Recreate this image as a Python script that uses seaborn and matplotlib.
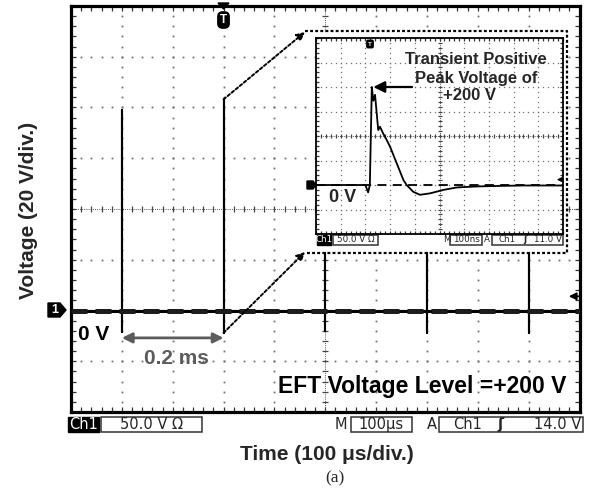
import matplotlib
matplotlib.use("Agg")
import numpy as np
import pandas as pd
import matplotlib.pyplot as plt
from matplotlib.patches import Rectangle, Polygon
from matplotlib.lines import Line2D
from matplotlib.ticker import MultipleLocator
import seaborn as sns

# Main record: 100 us/div, 50 V/div, burst spikes every 0.2 ms
spike_times_us = [100, 300, 500, 700, 900]
spike_peaks_v = [198, 208, 200, 200, 200]
spike_dips_v = [-21, -22, -20, -22, -22]
trigger_main_v = 14.0

# Zoomed single pulse: 100 ns/div, 50 V/div
pulse_time_ns = [0, 100, 200, 211, 218, 226, 232, 239, 252, 259, 272, 286, 300,
                 327, 354, 367, 394, 421, 462, 516, 570, 650, 730, 840, 1000]
pulse_volt_v = [0, 0, 0, -15, 0, 200, 172, 184, 112, 119, 105, 92, 78,
                44, 10, 0, -14, -20, -17, -10, -5, -3, -2, -1, -1]
trigger_zoom_v = 11.0

main_status = ["Ch1", "50.0 V \u03a9", "M", "100\u03bcs", "A", "Ch1", "\u0283", "14.0 V"]
zoom_status = ["Ch1", "50.0 V \u03a9", "M", "100ns", "A", "Ch1", "\u0283", "11.0 V"]

sns.set_theme(style="white")
plt.rcParams["font.family"] = ["Liberation Sans", "DejaVu Sans"]

W, H = 594, 501
fig = plt.figure(figsize=(W / 100, H / 100), dpi=100)
fig.patch.set_facecolor("white")


def fx(px):
    return px / W


def fy(py):
    return 1 - py / H


def scope_grid(ax, xdiv, ydiv, ms, tick_ms):
    x0, x1 = ax.get_xlim()
    y0, y1 = ax.get_ylim()
    xc, yc = (x0 + x1) / 2, (y0 + y1) / 2
    xs_fine = np.arange(x0, x1 + 1e-9, xdiv / 5)
    ys_fine = np.arange(y0, y1 + 1e-9, ydiv / 5)
    for xg in np.arange(x0 + xdiv, x1 - 1e-9, xdiv):
        if abs(xg - xc) < 1e-6:
            continue
        ax.plot(np.full_like(ys_fine, xg), ys_fine, ls="none", marker="s",
                ms=ms, color="#707070", mew=0, zorder=1)
    for yg in np.arange(y0 + ydiv, y1 - 1e-9, ydiv):
        if abs(yg - yc) < 1e-6:
            continue
        ax.plot(xs_fine, np.full_like(xs_fine, yg), ls="none", marker="s",
                ms=ms, color="#707070", mew=0, zorder=1)
    # centre graticule with small ticks
    ax.axhline(yc, color="#555555", lw=0.7, ls=(0, (1, 1.2)), zorder=1)
    ax.axvline(xc, color="#555555", lw=0.7, ls=(0, (1, 1.2)), zorder=1)
    ax.plot(xs_fine, np.full_like(xs_fine, yc), ls="none", marker="|",
            ms=tick_ms, mew=0.9, color="#444444", zorder=1)
    ax.plot(np.full_like(ys_fine, xc), ys_fine, ls="none", marker="_",
            ms=tick_ms, mew=0.9, color="#444444", zorder=1)
    ax.xaxis.set_major_locator(MultipleLocator(xdiv))
    ax.xaxis.set_minor_locator(MultipleLocator(xdiv / 5))
    ax.yaxis.set_major_locator(MultipleLocator(ydiv))
    ax.yaxis.set_minor_locator(MultipleLocator(ydiv / 5))
    ax.tick_params(which="both", direction="in", length=tick_ms * 0.7, width=0.9,
                   color="#333333", top=True, right=True, bottom=True, left=True,
                   labelbottom=False, labelleft=False)
    ax.set_xlabel("")
    ax.set_ylabel("")


# ---------------- main record ----------------
ax = fig.add_axes([fx(71), fy(412), (579.5 - 71) / W, (412 - 6) / H])
ax.set_xlim(0, 1000)
ax.set_ylim(-100, 300)
scope_grid(ax, 100, 50, 1.3, 5)

t_pts, v_pts = [0.0], [0.0]
for t, pk, dp in zip(spike_times_us, spike_peaks_v, spike_dips_v):
    t_pts += [t, t, t, t]
    v_pts += [0, pk, dp, 0]
t_pts.append(1000.0)
v_pts.append(0.0)
main_df = pd.DataFrame({"t": t_pts, "v": v_pts})
sns.lineplot(data=main_df, x="t", y="v", sort=False, estimator=None,
             color="black", lw=1.5, ax=ax, zorder=3)
ax.axhline(0, color="black", lw=2.2, zorder=3)
ax.axhline(0, color="#1c1c1c", lw=3.6, dashes=(3.2, 1.6), zorder=3)
ax.set_xlabel("")
ax.set_ylabel("")
for s in ax.spines.values():
    s.set_linewidth(2.3)
    s.set_color("black")

# trigger-level marker
ax.annotate("", xy=(979, trigger_main_v), xytext=(1000, trigger_main_v),
            arrowprops=dict(arrowstyle="-|>", color="black", lw=1.2,
                            mutation_scale=11, shrinkA=0, shrinkB=0))

# 0.2 ms interval
ax.annotate("", xy=(spike_times_us[0], -27), xytext=(spike_times_us[1], -27),
            arrowprops=dict(arrowstyle="<|-|>", color="#5c5c5c", lw=2.0,
                            mutation_scale=15, shrinkA=0, shrinkB=0), zorder=4)
fig.text(fx(176), fy(358), "0.2 ms", ha="center", va="center", fontsize=15,
         fontweight="bold", color="#5c5c5c")
fig.text(fx(94), fy(334), "0 V", ha="center", va="center", fontsize=15,
         fontweight="bold", color="black")
fig.text(fx(422), fy(387), "EFT Voltage Level =+200 V", ha="center", va="center",
         fontsize=16.5, fontweight="bold", color="black")

# dotted connectors to the zoomed view
conn = dict(arrowstyle="-|>", color="black", lw=1.4, ls=(0, (1.5, 1.2)),
            mutation_scale=12, shrinkA=0, shrinkB=0)
ax.annotate("", xy=(fx(305), fy(32)), xycoords="figure fraction",
            xytext=(spike_times_us[1], spike_peaks_v[1]), textcoords="data",
            arrowprops=conn, annotation_clip=False)
ax.annotate("", xy=(fx(305), fy(252)), xycoords="figure fraction",
            xytext=(spike_times_us[1], spike_dips_v[1]), textcoords="data",
            arrowprops=conn, annotation_clip=False)

# channel and trigger markers
fig.add_artist(Polygon([(fx(48), fy(303)), (fx(60), fy(303)), (fx(66), fy(310)),
                        (fx(60), fy(317)), (fx(48), fy(317))], closed=True,
                       fc="black", ec="black", transform=fig.transFigure))
fig.text(fx(55), fy(310), "1", ha="center", va="center", fontsize=9,
         fontweight="bold", color="white", zorder=4)
fig.add_artist(Polygon([(fx(218), fy(3)), (fx(229), fy(3)), (fx(223.5), fy(9))],
                       closed=True, fc="black", ec="black", transform=fig.transFigure))
fig.text(fx(223.5), fy(20), "T", ha="center", va="center", fontsize=8.5,
         fontweight="bold", color="white",
         bbox=dict(boxstyle="round,pad=0.18,rounding_size=0.4", fc="black", ec="black"))

# axis titles
fig.text(fx(327), fy(455), "Time (100 \u03bcs/div.)", ha="center", va="center",
         fontsize=15, fontweight="bold")
fig.text(fx(29), fy(210), "Voltage (20 V/div.)", ha="center", va="center",
         rotation=90, fontsize=15, fontweight="bold")
fig.text(fx(335), fy(478), "(a)", ha="center", va="center", fontsize=12.5,
         family=["Liberation Serif", "DejaVu Serif"])


def status_bar(items, top, bot, xs, fs):
    (ch_l, ch_r), (b1_l, b1_r), m_x, (b2_l, b2_r), a_x, (b3_l, b3_r), c_x, e_x, v_r = xs
    yc = (top + bot) / 2
    fig.add_artist(Rectangle((fx(ch_l), fy(bot)), (ch_r - ch_l) / W, (bot - top) / H,
                             fc="black", ec="black", transform=fig.transFigure))
    fig.text(fx((ch_l + ch_r) / 2), fy(yc), items[0], ha="center", va="center",
             fontsize=fs, color="white", family="DejaVu Sans")
    for l, r in [(b1_l, b1_r), (b2_l, b2_r), (b3_l, b3_r)]:
        fig.add_artist(Rectangle((fx(l), fy(bot)), (r - l) / W, (bot - top) / H,
                                 fc="white", ec="#333333", lw=1.1,
                                 transform=fig.transFigure))
    fig.text(fx((b1_l + b1_r) / 2), fy(yc), items[1], ha="center", va="center",
             fontsize=fs, family="DejaVu Sans")
    fig.text(fx(m_x), fy(yc), items[2], ha="center", va="center", fontsize=fs,
             family="DejaVu Sans")
    fig.text(fx((b2_l + b2_r) / 2), fy(yc), items[3], ha="center", va="center",
             fontsize=fs, family="DejaVu Sans")
    fig.text(fx(a_x), fy(yc), items[4], ha="center", va="center", fontsize=fs,
             family="DejaVu Sans")
    fig.text(fx(c_x), fy(yc), items[5], ha="center", va="center", fontsize=fs,
             family="DejaVu Sans")
    fig.text(fx(e_x), fy(yc), items[6], ha="center", va="center", fontsize=fs,
             fontweight="bold", family="DejaVu Sans")
    fig.text(fx(v_r), fy(yc), items[7], ha="right", va="center", fontsize=fs,
             family="DejaVu Sans")


status_bar(main_status, 417, 432,
           [(68, 99), (101, 202), 341, (351, 412), 432, (439, 583), 468, 500, 581], 10.5)

# ---------------- zoomed single pulse ----------------
fig.add_artist(Rectangle((fx(316), fy(252)), (566 - 316) / W, (252 - 32) / H,
                         fc="white", ec="none", transform=fig.transFigure, zorder=1))
fig.add_artist(Line2D([fx(305), fx(567), fx(567), fx(305)],
                      [fy(31), fy(31), fy(253), fy(253)], color="black", lw=1.6,
                      ls=(0, (1.3, 1.0)), transform=fig.transFigure, zorder=2))

ax2 = fig.add_axes([fx(316), fy(234), (563 - 316) / W, (234 - 38) / H])
ax2.set_zorder(5)
ax2.set_facecolor("white")
ax2.set_xlim(0, 1000)
ax2.set_ylim(-100, 300)
scope_grid(ax2, 100, 50, 0.9, 3.5)
pulse_df = pd.DataFrame({"t": pulse_time_ns, "v": pulse_volt_v})
sns.lineplot(data=pulse_df, x="t", y="v", sort=False, estimator=None,
             color="black", lw=1.3, ax=ax2, zorder=3)
ax2.axhline(0, color="black", lw=1.3, dashes=(5, 3.5), zorder=2)
ax2.set_xlabel("")
ax2.set_ylabel("")
for s in ax2.spines.values():
    s.set_linewidth(1.3)
    s.set_color("black")

ax2.annotate("", xy=(232, 200), xytext=(389, 200),
             arrowprops=dict(arrowstyle="-|>", color="black", lw=1.6,
                             mutation_scale=17, shrinkA=0, shrinkB=0), zorder=4)
ax2.annotate("", xy=(975, trigger_zoom_v), xytext=(1000, trigger_zoom_v),
             arrowprops=dict(arrowstyle="-|>", color="black", lw=0.9,
                             mutation_scale=7, shrinkA=0, shrinkB=0))
tf = fig.transFigure
ax2.text(fx(476), fy(59), "Transient Positive", transform=tf, ha="center",
         va="center", fontsize=12, fontweight="bold")
ax2.text(fx(476), fy(79), "Peak Voltage of", transform=tf, ha="center",
         va="center", fontsize=12, fontweight="bold")
ax2.text(fx(470), fy(95), "+200 V", transform=tf, ha="center",
         va="center", fontsize=12, fontweight="bold")
ax2.text(fx(343), fy(197), "0 V", transform=tf, ha="center",
         va="center", fontsize=13, fontweight="bold")
ax2.add_patch(Polygon([(fx(307), fy(181)), (fx(313), fy(181)), (fx(316), fy(185)),
                       (fx(313), fy(189)), (fx(307), fy(189))], closed=True,
                      fc="black", ec="black", transform=tf, clip_on=False))
ax2.text(fx(370), fy(44), "T", transform=tf, ha="center", va="center",
         fontsize=4.5, fontweight="bold", color="white",
         bbox=dict(boxstyle="round,pad=0.2", fc="black", ec="black"))

status_bar(zoom_status, 235, 245,
           [(317, 331), (333, 378), 447, (450, 482), 487, (492, 563), 507, 525, 562], 6.3)

fig.savefig("out.png", dpi=100, facecolor="white")
